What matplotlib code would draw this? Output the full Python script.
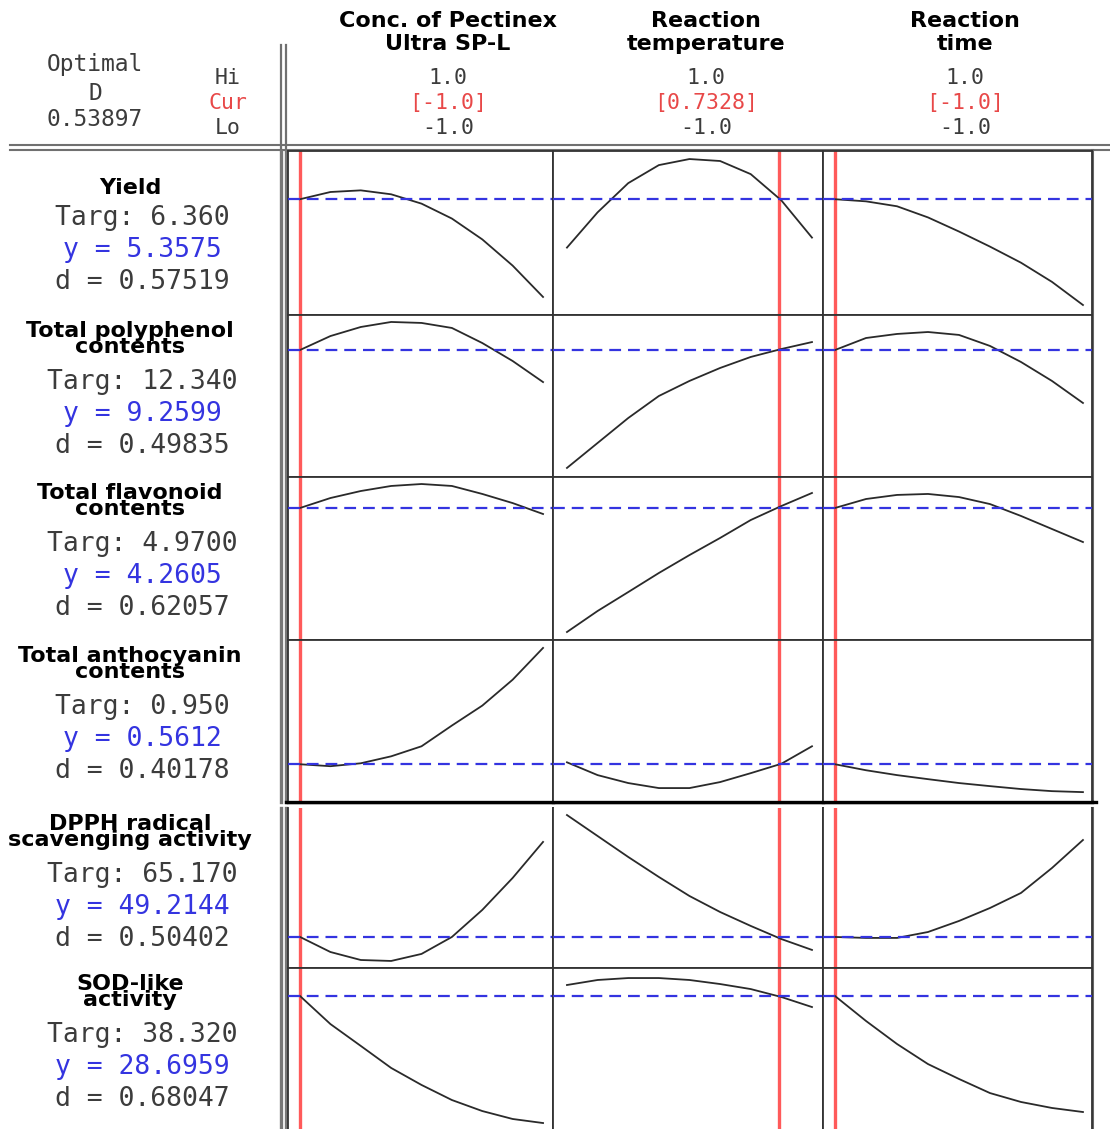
import numpy as np
import matplotlib.pyplot as plt

plt.rcParams['lines.scale_dashes'] = False

W, H = 1110, 1129

# coded factor settings
x_levels = [-1.0, -0.75, -0.5, -0.25, 0.0, 0.25, 0.5, 0.75, 1.0]
factors = ['Conc. of Pectinex\nUltra SP-L', 'Reaction\ntemperature', 'Reaction\ntime']
hi_labels = ['1.0', '1.0', '1.0']
lo_labels = ['-1.0', '-1.0', '-1.0']
cur = [-1.0, 0.7328, -1.0]
cur_labels = ['[-1.0]', '[0.7328]', '[-1.0]']
D_total = '0.53897'

responses = ['Yield', 'Total polyphenol\ncontents', 'Total flavonoid\ncontents',
             'Total anthocyanin\ncontents', 'DPPH radical\nscavenging activity',
             'SOD-like\nactivity']
targets = ['6.360', '12.340', '4.9700', '0.950', '65.170', '38.320']
y_pred = ['5.3575', '9.2599', '4.2605', '0.5612', '49.2144', '28.6959']
d_vals = ['0.57519', '0.49835', '0.62057', '0.40178', '0.50402', '0.68047']

# no y scale is shown, so responses are in % of panel height
y_level = [70.6, 78.4, 81.0, 23.3, 19.4, 82.7]

# one list per factor: conc, temperature, time
yield_c = [[70.6, 75.0, 76.0, 73.6, 67.9, 58.8, 46.1, 30.1, 11.0],
           [41.1, 62.6, 80.4, 91.4, 95.1, 93.9, 85.9, 69.9, 47.2],
           [70.6, 69.3, 66.3, 59.5, 50.9, 41.7, 31.9, 20.2, 6.1]]
polyphenol_c = [[78.4, 87.0, 92.6, 95.7, 95.1, 92.0, 82.7, 71.6, 58.6],
                [5.6, 21.0, 36.4, 50.0, 59.3, 67.3, 74.1, 79.0, 83.3],
                [78.4, 85.8, 88.3, 89.5, 87.7, 80.9, 71.0, 59.3, 45.7]]
flavonoid_c = [[81.0, 87.1, 91.4, 94.5, 95.7, 94.5, 89.6, 84.0, 77.3],
               [4.9, 17.8, 29.4, 41.1, 52.1, 62.6, 73.6, 82.2, 90.2],
               [81.0, 86.5, 89.0, 89.6, 87.7, 83.4, 76.1, 68.1, 60.1]]
anthocyanin_c = [[23.3, 22.1, 23.9, 28.2, 34.4, 47.2, 59.5, 75.5, 95.1],
                 [24.5, 16.6, 11.7, 8.6, 8.6, 12.3, 17.8, 23.6, 34.4],
                 [23.3, 19.6, 16.6, 14.1, 11.7, 9.8, 8.0, 6.7, 6.1]]
dpph_c = [[19.4, 10.0, 5.0, 4.4, 8.8, 19.4, 36.3, 56.3, 78.8],
          [95.6, 82.5, 69.4, 56.9, 45.0, 35.0, 26.3, 18.1, 11.3],
          [19.4, 18.8, 18.8, 22.5, 29.4, 37.5, 46.9, 62.5, 80.0]]
sod_c = [[82.7, 65.4, 51.9, 38.3, 27.8, 18.5, 11.7, 6.8, 4.3],
         [89.5, 92.6, 93.8, 93.8, 92.6, 90.1, 87.0, 82.1, 75.9],
         [82.7, 67.3, 53.1, 40.7, 31.5, 22.8, 17.3, 13.6, 11.1]]
curves = [yield_c, polyphenol_c, flavonoid_c, anthocyanin_c, dpph_c, sod_c]

# layout in pixels (y from top)
col_px = [(288, 553), (553, 823), (823, 1092)]
col_xlim = [(-1.099, 1.082), (-1.114, 1.090), (-1.097, 1.073)]
row_px = [(151, 315), (315, 477), (477, 640), (640, 802), (808, 968), (968, 1130)]

GRAY = '#3c3c3c'
RED = '#e84848'
BLUE = '#3434e0'
MONO = 'DejaVu Sans Mono'

fig = plt.figure(figsize=(W / 100, H / 100), dpi=100)
bg = fig.add_axes([0, 0, 1, 1])
bg.set_xlim(0, W)
bg.set_ylim(H, 0)
bg.axis('off')


def px_axes(x0, y0, x1, y1):
    return fig.add_axes([x0 / W, 1 - y1 / H, (x1 - x0) / W, (y1 - y0) / H])


# panels
for i, (r0, r1) in enumerate(row_px):
    for j, (c0, c1) in enumerate(col_px):
        ax = px_axes(c0, r0, c1, r1)
        ax.set_xlim(*col_xlim[j])
        ax.set_ylim(0, 100)
        ax.set_xticks([])
        ax.set_yticks([])
        for s in ax.spines.values():
            s.set_color('#333333')
            s.set_linewidth(1.3)
        if i == 4:
            ax.spines['top'].set_visible(False)
        if i == 3:
            ax.spines['bottom'].set_linewidth(2.4)
            ax.spines['bottom'].set_color('black')
        ax.axvline(cur[j], color='#ff5a5a', lw=2.4, zorder=1)
        ax.axhline(y_level[i], color=BLUE, lw=1.6, dashes=(8.5, 5), zorder=3)
        ax.plot(x_levels, curves[i][j], color='#2a2a2a', lw=1.3, zorder=2)

# frame lines
bg.plot([10, 1110], [145, 145], color='#707070', lw=1.5)
bg.plot([10, 1110], [150, 150], color='#707070', lw=1.5)
for xx in (280.5, 286):
    bg.plot([xx, xx], [45, 150], color='#707070', lw=1.6)
    bg.plot([xx, xx], [151, 802], color='#777777', lw=2.4)
    bg.plot([xx, xx], [808, 1129], color='#777777', lw=2.4)
bg.plot([1092, 1092], [150, 802], color='#666666', lw=2.2)
bg.plot([1092, 1092], [808, 1129], color='#666666', lw=2.2)
bg.plot([286, 1096], [802, 802], color='black', lw=2.4)

# header
OS = 16.5
bg.text(95, 64, 'Optimal', color=GRAY, family=MONO, fontsize=OS, ha='center', va='center')
bg.text(95, 93, 'D', color=GRAY, family=MONO, fontsize=OS, ha='center', va='center')
bg.text(95, 120, D_total, color=GRAY, family=MONO, fontsize=OS, ha='center', va='center')

HS = 15.5
row_hi, row_cur, row_lo = 78, 103.2, 128.4
bg.text(228, row_hi, 'Hi', color=GRAY, family=MONO, fontsize=HS, ha='center', va='center')
bg.text(228, row_cur, 'Cur', color=RED, family=MONO, fontsize=HS, ha='center', va='center')
bg.text(228, row_lo, 'Lo', color=GRAY, family=MONO, fontsize=HS, ha='center', va='center')

col_cx = [448, 706, 965]
for j in range(3):
    bg.text(col_cx[j], 32.5, factors[j], fontsize=16, fontweight='bold', ha='center',
            va='center', linespacing=1.13)
    bg.text(col_cx[j], row_hi, hi_labels[j], color=GRAY, family=MONO, fontsize=HS, ha='center', va='center')
    bg.text(col_cx[j], row_cur, cur_labels[j], color=RED, family=MONO, fontsize=HS, ha='center', va='center')
    bg.text(col_cx[j], row_lo, lo_labels[j], color=GRAY, family=MONO, fontsize=HS, ha='center', va='center')

# response labels
for i, (r0, r1) in enumerate(row_px):
    two = '\n' in responses[i]
    bg.text(130, r0 + (24 if two else 37), responses[i], fontsize=16, fontweight='bold',
            ha='center', va='center', linespacing=0.77)
    bg.text(142, r0 + 67, 'Targ: ' + targets[i], color=GRAY, family=MONO, fontsize=19,
            ha='center', va='center')
    bg.text(142, r0 + 99, 'y = ' + y_pred[i], color=BLUE, family=MONO, fontsize=19,
            ha='center', va='center')
    bg.text(142, r0 + 131, 'd = ' + d_vals[i], color=GRAY, family=MONO, fontsize=19,
            ha='center', va='center')

fig.savefig('out.png', dpi=100)
